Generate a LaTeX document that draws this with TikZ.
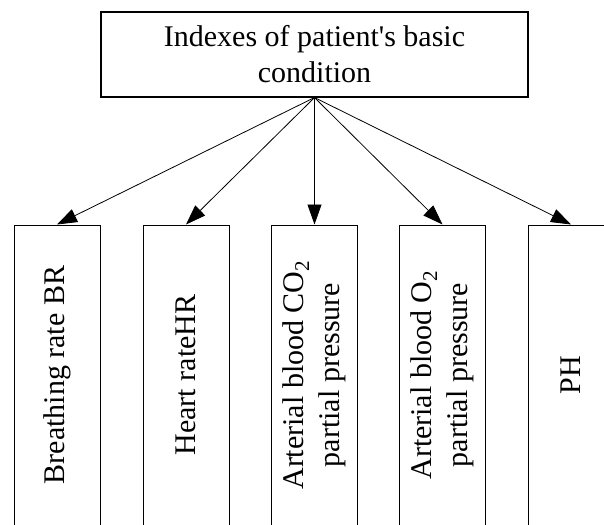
\documentclass[tikz,border=0pt]{standalone}
\usepackage{fontspec}
\setmainfont{Liberation Serif}
\usetikzlibrary{arrows.meta}
\begin{document}
\begin{tikzpicture}[x=1pt,y=-1pt,
  topbox/.style={draw, line width=1.1pt, minimum width=427pt, minimum height=85pt, inner sep=0pt, align=center, font=\fontsize{30}{36}\selectfont},
  leafbox/.style={draw, line width=1pt, rotate=90, minimum width=300pt, minimum height=86pt, inner sep=0pt, align=center, font=\fontsize{30}{36}\selectfont},
  conn/.style={line width=0.8pt, -{Triangle[length=20pt,width=14pt]}}]
\useasboundingbox (0,0) rectangle (604,524);
\clip (0,0) rectangle (604,524);
\node[topbox] (top) at (314.5,54.5) {Indexes of patient\textquotesingle s basic\\condition};
\node[leafbox] (b1) at (57,375) {Breathing rate BR};
\node[leafbox] (b2) at (186,375) {Heart rateHR};
\node[leafbox] (b3) at (314.5,375) {Arterial blood CO\textsubscript{2}\\partial pressure};
\node[leafbox] (b4) at (442.5,375) {Arterial blood O\textsubscript{2}\\partial pressure};
\node[leafbox] (b5) at (571,375) {PH};
\foreach \b in {b1,b2,b3,b4,b5}
  \draw[conn] (top.south) -- (\b.east);
\end{tikzpicture}
\end{document}
